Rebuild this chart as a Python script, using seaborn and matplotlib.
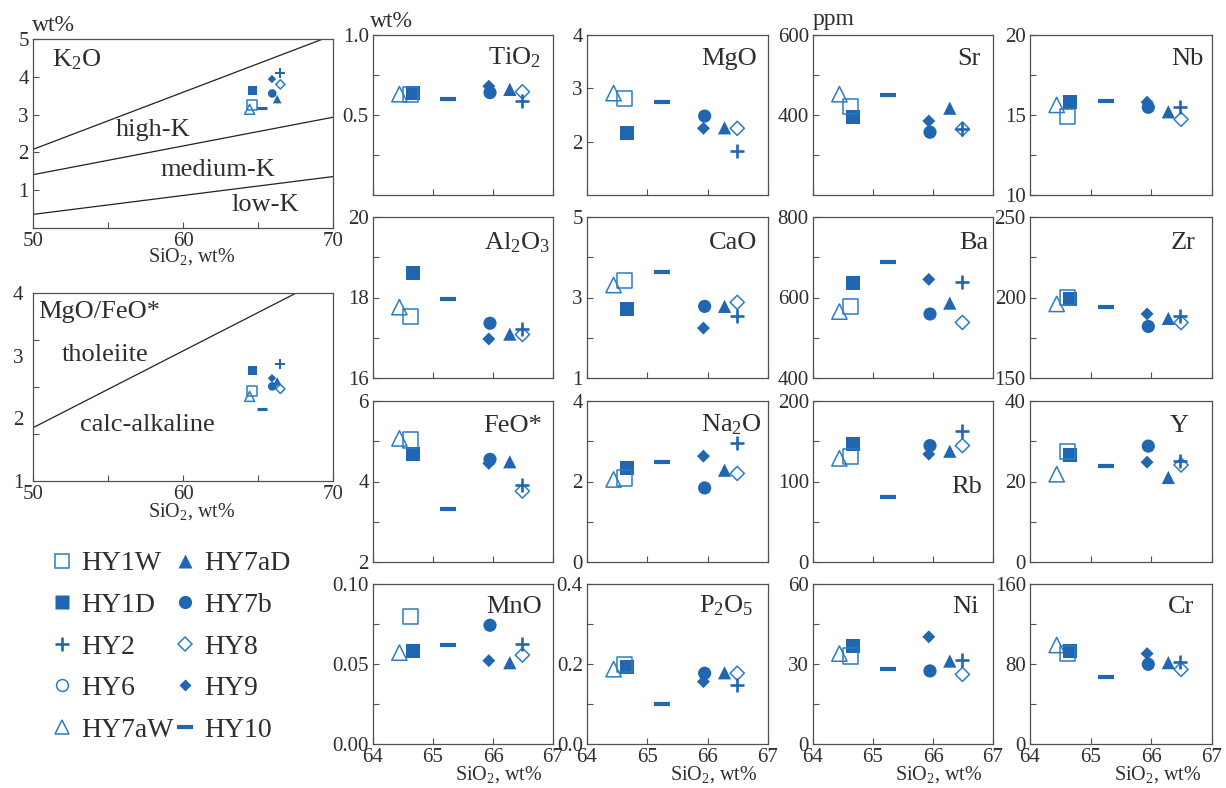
import numpy as np
import pandas as pd
import matplotlib
matplotlib.use("Agg")
import matplotlib.pyplot as plt
from matplotlib.lines import Line2D
import seaborn as sns

nan = np.nan

# ---- data ----
samples = ["HY1W", "HY1D", "HY2", "HY6", "HY7aW", "HY7aD", "HY7b", "HY8", "HY9", "HY10"]
sio2 = [64.62, 64.66, 66.48, nan, 64.44, 66.28, 65.95, 66.49, 65.93, 65.25]

k2o = [3.26, 3.65, 4.11, nan, 3.14, 3.41, 3.56, 3.80, 3.94, 3.17]
mgo_feo = [2.43, 2.77, 2.86, nan, 2.35, 2.59, 2.51, 2.47, 2.64, 2.15]

tio2 = [0.63, 0.635, 0.59, nan, 0.63, 0.66, 0.64, 0.645, 0.68, 0.60]
mgo = [2.81, 2.16, 1.83, nan, 2.91, 2.26, 2.48, 2.25, 2.25, 2.75]
sr = [421, 396, 365, nan, 452, 417, 357, 365, 385, 451]
nb = [14.9, 15.83, 15.52, nan, 15.63, 15.2, 15.48, 14.73, 15.8, 15.9]
al2o3 = [17.52, 18.61, 17.21, nan, 17.76, 17.09, 17.36, 17.08, 16.97, 17.97]
cao = [3.43, 2.71, 2.53, nan, 3.31, 2.78, 2.78, 2.88, 2.24, 3.64]
ba = [577, 635, 639, nan, 565, 586, 559, 538, 645, 689]
zr = [200.1, 198.8, 188.4, nan, 196, 187, 182, 184.4, 189.8, 194.3]
feo = [5.03, 4.68, 3.91, nan, 5.07, 4.49, 4.55, 3.76, 4.45, 3.32]
na2o = [2.09, 2.33, 2.95, nan, 2.05, 2.28, 1.84, 2.20, 2.63, 2.49]
rb = [130.7, 146.5, 162.7, nan, 128.7, 137.6, 144.6, 144.6, 134, 80.9]
y_ppm = [27.4, 26.6, 25.0, nan, 21.8, 21.0, 28.8, 24.1, 24.8, 23.8]
mno = [0.0796, 0.0583, 0.0625, nan, 0.0571, 0.0508, 0.0742, 0.0556, 0.0521, 0.0619]
p2o5 = [0.198, 0.193, 0.1475, nan, 0.187, 0.178, 0.177, 0.177, 0.156, 0.100]
ni = [33.0, 36.7, 31.5, nan, 33.9, 31.1, 27.4, 26.1, 40.2, 28.0]
cr = [90.4, 93.0, 82.3, nan, 99.0, 81.3, 79.7, 74.6, 90.4, 67.0]

# classification boundaries (SiO2, value)
k2o_lines_x = [[50, 69.33], [50, 70], [50, 70]]
k2o_lines_y = [[2.08, 5.0], [1.41, 2.93], [0.36, 1.36]]
tholeiite_x = [50, 67.55]
tholeiite_y = [1.85, 4.0]

df = pd.DataFrame({
    "sample": samples, "SiO2": sio2, "K2O": k2o, "MgOFeO": mgo_feo,
    "TiO2": tio2, "MgO": mgo, "Sr": sr, "Nb": nb,
    "Al2O3": al2o3, "CaO": cao, "Ba": ba, "Zr": zr,
    "FeO": feo, "Na2O": na2o, "Rb": rb, "Y": y_ppm,
    "MnO": mno, "P2O5": p2o5, "Ni": ni, "Cr": cr,
})

# ---- style ----
sns.set_style("ticks")
plt.rcParams["font.family"] = ["Liberation Serif", "DejaVu Serif"]
plt.rcParams["mathtext.fontset"] = "custom"
plt.rcParams["mathtext.rm"] = "Liberation Serif"
plt.rcParams["mathtext.it"] = "Liberation Serif:italic"

TXT = "#2e2e2e"
AX = "#505050"
FILL = "#2166b0"
OPEN = "#2b7cc4"

STYLE = {
    "HY1W": dict(marker="s", kind="open", ms=11),
    "HY1D": dict(marker="s", kind="fill", ms=10),
    "HY2": dict(marker="+", kind="line", ms=10.5, lw=1.9),
    "HY6": dict(marker="o", kind="open", ms=9),
    "HY7aW": dict(marker="^", kind="open", ms=11),
    "HY7aD": dict(marker="^", kind="fill", ms=9.5),
    "HY7b": dict(marker="o", kind="fill", ms=9.5),
    "HY8": dict(marker="D", kind="open", ms=7.2),
    "HY9": dict(marker="D", kind="fill", ms=6.6),
    "HY10": dict(marker="_", kind="line", ms=11, lw=3.0),
}
draw_order = ["HY7aW", "HY1D", "HY1W", "HY10", "HY9", "HY7b", "HY7aD", "HY8", "HY2"]

W, H = 1226, 788
fig = plt.figure(figsize=(W / 100, H / 100), dpi=100)


def box(x0, x1, y0, y1):
    return [x0 / W, 1 - y1 / H, (x1 - x0) / W, (y1 - y0) / H]


def draw_points(ax, col, scale=1.0):
    for name in draw_order:
        st = STYLE[name]
        sub = df[df["sample"] == name].dropna(subset=["SiO2", col])
        if sub.empty:
            continue
        kw = dict(marker=st["marker"], s=(st["ms"] * scale) ** 2, legend=False, zorder=3)
        if st["kind"] == "line":
            kw.update(color=FILL, linewidth=st["lw"] * max(scale, 0.75))
        elif st["kind"] == "open":
            kw.update(color=OPEN, facecolor="none", edgecolor=OPEN, linewidth=1.1)
        else:
            kw.update(color=FILL, edgecolor="none", linewidth=0)
        sns.scatterplot(data=sub, x="SiO2", y=col, ax=ax, **kw)
    ax.set(xlabel="", ylabel="")


def style_axes(ax):
    for sp in ax.spines.values():
        sp.set_color(AX)
        sp.set_linewidth(0.9)
    ax.tick_params(which="both", direction="in", length=4, width=0.8, color=AX,
                   labelcolor=TXT, labelsize=15, pad=3, top=False, right=False)


XLAB = "SiO$_2$, wt%"

# ---- K2O vs SiO2 ----
ax = fig.add_axes(box(33, 333, 39, 228))
for lx, ly in zip(k2o_lines_x, k2o_lines_y):
    sns.lineplot(x=lx, y=ly, ax=ax, color="#222222", linewidth=0.9)
draw_points(ax, "K2O", 0.65)
ax.set_xlim(50, 70)
ax.set_ylim(0, 5)
ax.set_xticks([50, 60, 70])
ax.set_xticks([55, 65], minor=True)
ax.set_yticks([1, 2, 3, 4, 5])
style_axes(ax)
ax.text(0.063, 0.854, "K$_2$O", transform=ax.transAxes, fontsize=19, color=TXT)
ax.text(0.40, 0.486, "high-K", transform=ax.transAxes, fontsize=19, color=TXT, ha="center")
ax.text(0.617, 0.275, "medium-K", transform=ax.transAxes, fontsize=19, color=TXT, ha="center")
ax.text(0.773, 0.091, "low-K", transform=ax.transAxes, fontsize=19, color=TXT, ha="center")
ax.text(-0.003, 1.04, "wt%", transform=ax.transAxes, fontsize=17, color=TXT)
ax.text(0.53, -0.15, XLAB, transform=ax.transAxes, fontsize=14.5, color=TXT, ha="center", va="center")

# ---- MgO/FeO* vs SiO2 ----
ax = fig.add_axes(box(33, 333, 293, 481))
sns.lineplot(x=tholeiite_x, y=tholeiite_y, ax=ax, color="#222222", linewidth=0.9)
draw_points(ax, "MgOFeO", 0.65)
ax.set_xlim(50, 70)
ax.set_ylim(1, 4)
ax.set_xticks([50, 60, 70])
ax.set_xticks([55, 65], minor=True)
ax.set_yticks([1, 2, 3, 4])
ax.set_yticks([1.75, 2.5, 3.25], minor=True)
style_axes(ax)
ax.tick_params(axis="y", which="major", length=0, pad=7)
ax.text(0.017, 0.867, "MgO/FeO*", transform=ax.transAxes, fontsize=19, color=TXT)
ax.text(0.096, 0.64, "tholeiite", transform=ax.transAxes, fontsize=19, color=TXT)
ax.text(0.157, 0.264, "calc-alkaline", transform=ax.transAxes, fontsize=19, color=TXT)
ax.text(0.53, -0.16, XLAB, transform=ax.transAxes, fontsize=14.5, color=TXT, ha="center", va="center")

# ---- element grid ----
cols_px = [(373, 553), (587, 768), (813, 993), (1030, 1212)]
rows_px = [(35, 195), (217, 378), (401, 562), (584, 744)]

panels = [
    ("TiO2", "TiO$_2$", (0, 1), [0.5, 1.0], ["0.5", "1.0"], [0.25, 0.75], (0.93, 0.815)),
    ("MgO", "MgO", (1, 4), [2, 3, 4], ["2", "3", "4"], [], (0.94, 0.815)),
    ("Sr", "Sr", (200, 600), [400, 600], ["400", "600"], [300, 500], (0.93, 0.815)),
    ("Nb", "Nb", (10, 20), [10, 15, 20], ["10", "15", "20"], [12.5, 17.5], (0.955, 0.815)),
    ("Al2O3", "Al$_2$O$_3$", (16, 20), [16, 18, 20], ["16", "18", "20"], [17, 19], (0.985, 0.8)),
    ("CaO", "CaO", (1, 5), [1, 3, 5], ["1", "3", "5"], [2, 4], (0.94, 0.8)),
    ("Ba", "Ba", (400, 800), [400, 600, 800], ["400", "600", "800"], [500, 700], (0.975, 0.8)),
    ("Zr", "Zr", (150, 250), [150, 200, 250], ["150", "200", "250"], [175, 225], (0.91, 0.8)),
    ("FeO", "FeO*", (2, 6), [2, 4, 6], ["2", "4", "6"], [3, 5], (0.94, 0.81)),
    ("Na2O", "Na$_2$O", (0, 4), [0, 2, 4], ["0", "2", "4"], [1, 3], (0.965, 0.81)),
    ("Rb", "Rb", (0, 200), [0, 100, 200], ["0", "100", "200"], [50, 150], (0.94, 0.43)),
    ("Y", "Y", (0, 40), [0, 20, 40], ["0", "20", "40"], [10, 30], (0.87, 0.81)),
    ("MnO", "MnO", (0, 0.1), [0, 0.05, 0.1], ["0.00", "0.05", "0.10"], [0.025, 0.075], (0.94, 0.82)),
    ("P2O5", "P$_2$O$_5$", (0, 0.4), [0, 0.2, 0.4], ["0.0", "0.2", "0.4"], [0.1, 0.3], (0.92, 0.82)),
    ("Ni", "Ni", (0, 60), [0, 30, 60], ["0", "30", "60"], [15, 45], (0.92, 0.82)),
    ("Cr", "Cr", (0, 160), [0, 80, 160], ["0", "80", "160"], [40, 120], (0.9, 0.82)),
]

for i, (col, title, ylim, yt, ytl, ymin, tpos) in enumerate(panels):
    r, c = divmod(i, 4)
    x0, x1 = cols_px[c]
    y0, y1 = rows_px[r]
    ax = fig.add_axes(box(x0, x1, y0, y1))
    draw_points(ax, col, 1.0)
    ax.set_xlim(64, 67)
    ax.set_ylim(*ylim)
    ax.set_xticks([64, 65, 66, 67])
    ax.set_yticks(yt)
    ax.set_yticklabels(ytl)
    if ymin:
        ax.set_yticks(ymin, minor=True)
    style_axes(ax)
    if r < 3:
        ax.tick_params(axis="x", labelbottom=False)
    else:
        ax.set_xticklabels(["64", "65", "66", "67"])
        ax.text(0.94, -0.19, XLAB, transform=ax.transAxes, fontsize=14.5, color=TXT,
                ha="right", va="center")
    ax.text(tpos[0], tpos[1], title, transform=ax.transAxes, fontsize=19, color=TXT,
            ha="right", va="baseline")
    if i == 0:
        ax.text(-0.017, 1.05, "wt%", transform=ax.transAxes, fontsize=17, color=TXT)
    if i == 2:
        ax.text(0.0, 1.06, "ppm", transform=ax.transAxes, fontsize=17, color=TXT)

# ---- legend ----
handles = []
for name in samples:
    st = STYLE[name]
    if st["kind"] == "line":
        h = Line2D([], [], linestyle="none", marker=st["marker"], markersize=st["ms"],
                   color=FILL, markeredgewidth=st["lw"])
    elif st["kind"] == "open":
        h = Line2D([], [], linestyle="none", marker=st["marker"], markersize=st["ms"] * 0.95,
                   markerfacecolor="none", markeredgecolor=OPEN, markeredgewidth=1.1)
    else:
        h = Line2D([], [], linestyle="none", marker=st["marker"], markersize=st["ms"],
                   markerfacecolor=FILL, markeredgecolor="none")
    handles.append(h)

leg = fig.legend(handles, samples, ncol=2, loc="upper left",
                 bbox_to_anchor=(52 / W, 1 - 551 / H), frameon=False, fontsize=20,
                 handlelength=0.7, handletextpad=0.35, columnspacing=0.05,
                 labelspacing=0.58, borderpad=0, borderaxespad=0)
for t in leg.get_texts():
    t.set_color(TXT)

fig.savefig("out.png", dpi=100)
